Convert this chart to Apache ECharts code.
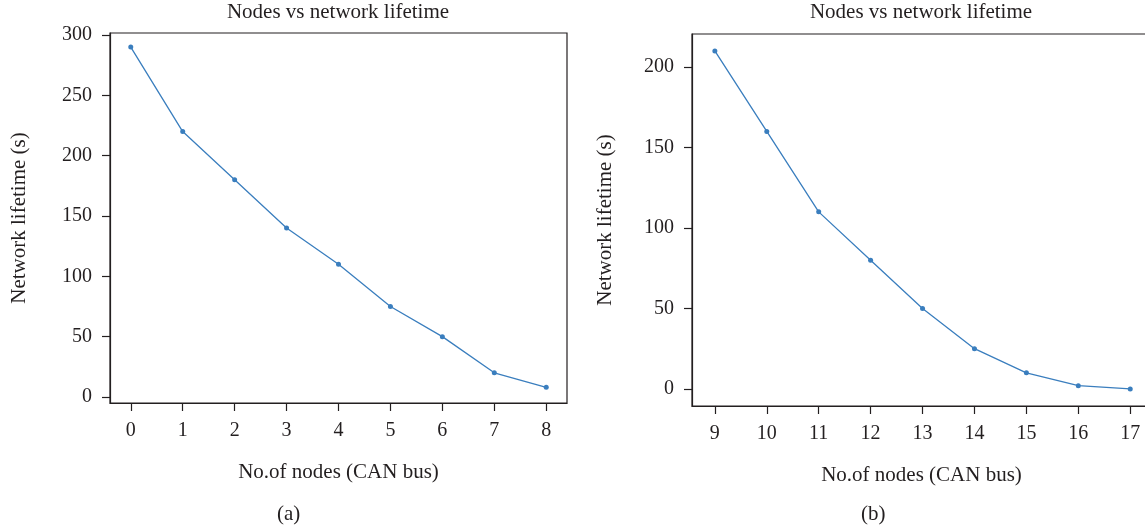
<!DOCTYPE html>
<html>
<head>
<meta charset="utf-8">
<script src="https://cdn.jsdelivr.net/npm/echarts@6/dist/echarts.min.js"></script>
<style>
  html, body { margin: 0; padding: 0; background: #ffffff; overflow: hidden; }
  #chart { width: 1160px; height: 529px; }
</style>
</head>
<body>
<div id="chart"></div>
<script>
// panel (a)
const nodesA = [0, 1, 2, 3, 4, 5, 6, 7, 8];
const lifetimeA = [290, 220, 180, 140, 110, 75, 50, 20, 8];
const yTicksA = [0, 50, 100, 150, 200, 250, 300];

// panel (b)
const nodesB = [9, 10, 11, 12, 13, 14, 15, 16, 17];
const lifetimeB = [210, 160, 110, 80, 50, 25, 10, 2, 0];
const yTicksB = [0, 50, 100, 150, 200];

const titleText = "Nodes vs network lifetime";
const xName = "No.of nodes (CAN bus)";
const yName = "Network lifetime (s)";

const ink = "#231f20";
const blue = "#3a7ebe";
const font = "'Liberation Serif', 'DejaVu Serif', serif";

function xAxisOf(gridIndex, ticks, min, max) {
  return {
    type: "value",
    gridIndex: gridIndex,
    min: min,
    max: max,
    name: xName,
    nameLocation: "middle",
    nameGap: 59,
    nameTextStyle: { color: ink, fontFamily: font, fontSize: 21 },
    axisLine: { onZero: false, lineStyle: { color: ink, width: 1.2 } },
    axisTick: { length: 8, customValues: ticks, lineStyle: { color: ink, width: 1.2 } },
    axisLabel: { customValues: ticks, margin: 18, color: ink, fontFamily: font, fontSize: 20 },
    splitLine: { show: false },
  };
}

function yAxisOf(gridIndex, ticks, min, max, gap) {
  return {
    type: "value",
    gridIndex: gridIndex,
    min: min,
    max: max,
    name: yName,
    nameLocation: "middle",
    nameGap: gap,
    nameTextStyle: { color: ink, fontFamily: font, fontSize: 21 },
    axisLine: { show: true, onZero: false, lineStyle: { color: ink, width: 1.2 } },
    axisTick: { show: true, length: 8, customValues: ticks, lineStyle: { color: ink, width: 1.2 } },
    axisLabel: { customValues: ticks, margin: 18, color: ink, fontFamily: font, fontSize: 20 },
    splitLine: { show: false },
  };
}

function lineOf(i, xs, ys) {
  return {
    type: "line",
    xAxisIndex: i,
    yAxisIndex: i,
    data: xs.map((x, k) => [x, ys[k]]),
    symbol: "circle",
    symbolSize: 5,
    lineStyle: { color: blue, width: 1.3 },
    itemStyle: { color: blue },
    animation: false,
  };
}

let myChart = echarts.init(document.getElementById("chart"));
let option = {
  backgroundColor: "#ffffff",
  title: [
    {
      text: titleText,
      left: 338,
      top: 2,
      textAlign: "center",
      padding: 0,
      textStyle: { color: ink, fontFamily: font, fontSize: 21, fontWeight: "normal" },
    },
    {
      text: titleText,
      left: 921,
      top: 2,
      textAlign: "center",
      padding: 0,
      textStyle: { color: ink, fontFamily: font, fontSize: 21, fontWeight: "normal" },
    },
  ],
  grid: [
    { left: 110, right: 593, top: 33, bottom: 126, show: true, borderColor: ink, borderWidth: 1.2 },
    { left: 692, right: 9, top: 34, bottom: 123, show: true, borderColor: ink, borderWidth: 1.2 },
  ],
  xAxis: [
    xAxisOf(0, nodesA, -0.4, 8.4),
    xAxisOf(1, nodesB, 8.56, 17.4),
  ],
  yAxis: [
    yAxisOf(0, yTicksA, -5, 301.7, 80),
    yAxisOf(1, yTicksB, -10.6, 220.5, 76),
  ],
  graphic: [
    { type: "text", left: 277, top: 504, style: { text: "(a)", fill: ink, font: "21px " + font } },
    { type: "text", left: 861, top: 504, style: { text: "(b)", fill: ink, font: "21px " + font } },
  ],
  series: [
    lineOf(0, nodesA, lifetimeA),
    lineOf(1, nodesB, lifetimeB),
  ],
};
myChart.setOption(option);
</script>
</body>
</html>
